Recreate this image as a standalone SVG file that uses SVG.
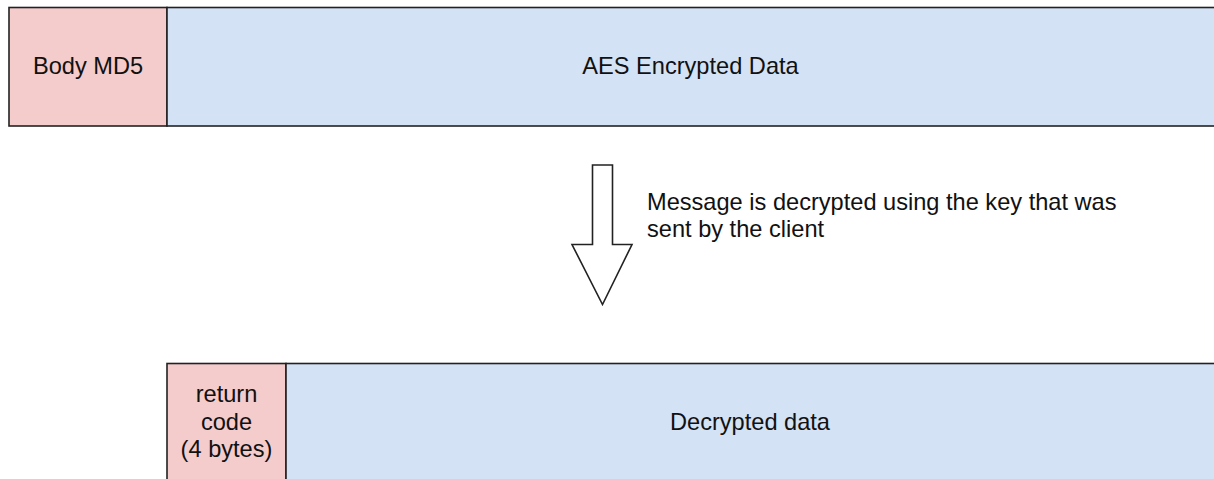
<svg xmlns="http://www.w3.org/2000/svg" width="1214" height="479" viewBox="0 0 1214 479">
<style>
.pink{fill:#f4cccc;stroke:#222;stroke-width:1.6}
.blue{fill:#d4e2f6;stroke:#222;stroke-width:1.6}
.t{font-family:"Liberation Sans",Arial,sans-serif;font-size:23.6px;fill:#111}
.c{text-anchor:middle}
</style>
<rect width="1214" height="479" fill="#ffffff"/>
<g id="body-md5">
<rect class="pink" x="9" y="7.5" width="158" height="118.5"/>
<text class="t c" x="88" y="74">Body MD5</text>
</g>
<g id="aes-encrypted-data">
<rect class="blue" x="167" y="7.5" width="1060" height="118.5"/>
<text class="t c" x="690.5" y="74">AES Encrypted Data</text>
</g>
<g id="connectors">
<path d="M592.5,165 L612.5,165 L612.5,244.5 L632,244.5 L602.5,304.5 L572,244.5 L592.5,244.5 Z" fill="#ffffff" stroke="#222" stroke-width="1.6" stroke-linejoin="miter"/>
<text class="t" x="647" y="210">Message is decrypted using the key that was</text>
<text class="t" x="647" y="237">sent by the client</text>
</g>
<g id="return-code">
<rect class="pink" x="167" y="363.5" width="119" height="130"/>
<text class="t c" x="226.5" y="402">return</text>
<text class="t c" x="226.5" y="429.5">code</text>
<text class="t c" x="226.5" y="457">(4 bytes)</text>
</g>
<g id="decrypted-data">
<rect class="blue" x="286" y="363.5" width="940" height="130"/>
<text class="t c" x="750" y="430">Decrypted data</text>
</g>
</svg>
